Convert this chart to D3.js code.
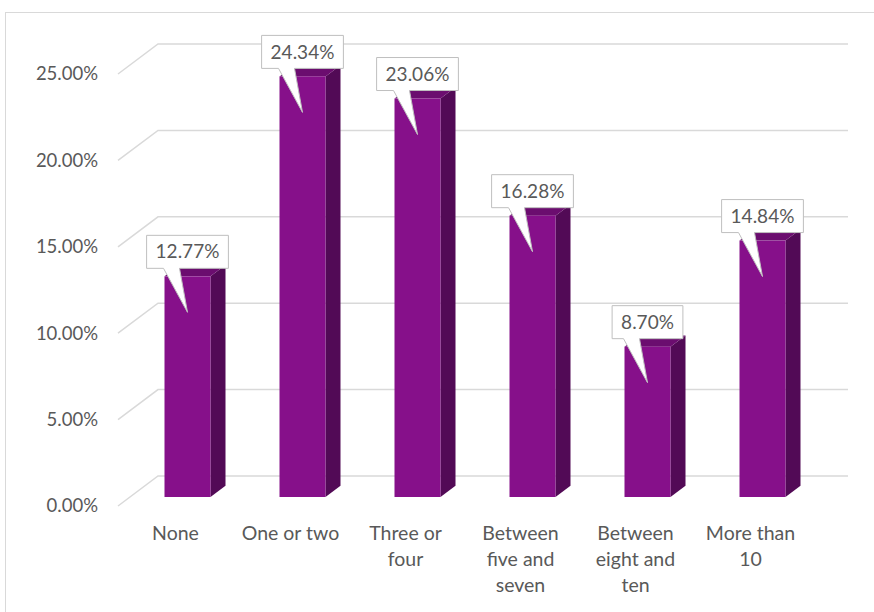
<!DOCTYPE html>
<html>
<head>
<meta charset="utf-8">
<script src="https://cdn.jsdelivr.net/npm/d3@7"></script>
<style>
  body { margin: 0; background: #fff; }
  text { font-family: Lato, "Open Sans", sans-serif; fill: #595959; }
</style>
</head>
<body>
<div id="chart"></div>
<script>
// Data
const categories = ["None", "One or two", "Three or four", "Between five and seven", "Between eight and ten", "More than 10"];
const shares = [0.1277, 0.2434, 0.2306, 0.1628, 0.0870, 0.1484];
const tickValues = [0, 0.05, 0.10, 0.15, 0.20, 0.25];

const width = 874, height = 612;

const svg = d3.select("#chart")
    .append("svg")
    .attr("width", width)
    .attr("height", height);

// outer frame (runs off the right and bottom edges)
svg.append("rect")
    .attr("x", 5.5)
    .attr("y", 12.5)
    .attr("width", 900)
    .attr("height", 700)
    .attr("fill", "none")
    .attr("stroke", "#d9d9d9")
    .attr("stroke-width", 1);

// front plane scales
const x = d3.scaleBand()
    .domain(categories)
    .range([118, 808]);

const y = d3.scaleLinear()
    .domain([0, 0.25])
    .range([506, 74]);

// 3D depth: back wall offset and bar placement inside the depth
const depthX = 40, depthY = -30;
const barFront = 0.3, barBack = 0.675;

// gridlines: diagonal on the side plus the back wall line
const grid = svg.append("g");
tickValues.forEach(function (t) {
    const fy = y(t);
    grid.append("path")
        .attr("d", "M" + 118 + "," + fy + " L" + (118 + depthX) + "," + (fy + depthY) +
            " H" + (808 + depthX))
        .attr("fill", "none")
        .attr("stroke", "#d9d9d9")
        .attr("stroke-width", 1.5);
});

// y tick labels
svg.append("g")
    .selectAll("text")
    .data(tickValues)
    .join("text")
    .attr("x", 98)
    .attr("y", d => y(d))
    .attr("dy", "0.35em")
    .attr("text-anchor", "end")
    .style("font-size", "18.5px")
    .text(d3.format(".2%"));

// bars
const barW = x.bandwidth() * 0.4;
const fx = barFront * depthX, fyOff = barFront * depthY;
const sx = (barBack - barFront) * depthX, syOff = (barBack - barFront) * depthY;

const bars = svg.append("g")
    .selectAll("g")
    .data(categories.map((c, i) => ({ c: c, v: shares[i] })))
    .join("g");

function barGeom(d) {
    const cx = x(d.c) + x.bandwidth() / 2 + fx;
    return {
        left: cx - barW / 2,
        right: cx + barW / 2,
        top: y(d.v) + fyOff,
        bottom: y(0) + fyOff,
        cx: cx
    };
}

// side face
bars.append("path")
    .attr("d", function (d) {
        const g = barGeom(d);
        return "M" + g.right + "," + g.bottom + " L" + (g.right + sx) + "," + (g.bottom + syOff) +
            " L" + (g.right + sx) + "," + (g.top + syOff) + " L" + g.right + "," + g.top + " Z";
    })
    .attr("fill", "#520a56");

// top face
bars.append("path")
    .attr("d", function (d) {
        const g = barGeom(d);
        return "M" + g.left + "," + g.top + " L" + g.right + "," + g.top +
            " L" + (g.right + sx) + "," + (g.top + syOff) + " L" + (g.left + sx) + "," + (g.top + syOff) + " Z";
    })
    .attr("fill", "#6b0d6f");

// front face
bars.append("rect")
    .attr("x", d => barGeom(d).left)
    .attr("y", d => barGeom(d).top)
    .attr("width", barW)
    .attr("height", d => barGeom(d).bottom - barGeom(d).top)
    .attr("fill", "#86108a");

// callout labels
const callouts = svg.append("g")
    .selectAll("g")
    .data(categories.map((c, i) => ({ c: c, v: shares[i] })))
    .join("g");

callouts.each(function (d) {
    const g = barGeom(d);
    const node = d3.select(this);
    const boxBottom = g.top - 8;
    const boxTop = boxBottom - 33;
    const path = node.append("path");
    const label = node.append("text")
        .attr("x", g.cx)
        .attr("y", (boxTop + boxBottom) / 2)
        .attr("dy", "0.35em")
        .attr("text-anchor", "middle")
        .style("font-size", "19px")
        .text(d3.format(".2%")(d.v));
    const w = label.node().getComputedTextLength() + 18;
    const l = g.cx - w / 2, r = g.cx + w / 2;
    const tipY = g.top + 36;
    path.attr("d", "M" + l + "," + boxTop + " H" + r + " V" + boxBottom +
            " H" + (g.cx - 8) + " L" + g.cx + "," + tipY + " L" + (g.cx - 24) + "," + boxBottom +
            " H" + l + " Z")
        .attr("fill", "#fff")
        .attr("stroke", "#bfbfbf")
        .attr("stroke-width", 1);
});

// category labels, wrapped to the band width
const maxLine = 102;
const catLabels = svg.append("g")
    .selectAll("text")
    .data(categories)
    .join("text")
    .attr("text-anchor", "middle")
    .style("font-size", "19.5px")
    .attr("transform", d => "translate(" + (x(d) + x.bandwidth() / 2) + ",540)");

catLabels.each(function (d) {
    const t = d3.select(this);
    const words = d.split(" ");
    let line = [];
    let lineNo = 0;
    let tspan = t.append("tspan").attr("x", 0).attr("y", 0);
    words.forEach(function (w) {
        line.push(w);
        tspan.text(line.join(" "));
        if (tspan.node().getComputedTextLength() > maxLine && line.length > 1) {
            line.pop();
            tspan.text(line.join(" "));
            line = [w];
            lineNo++;
            tspan = t.append("tspan").attr("x", 0).attr("y", lineNo * 26).text(w);
        }
    });
});
</script>
</body>
</html>
